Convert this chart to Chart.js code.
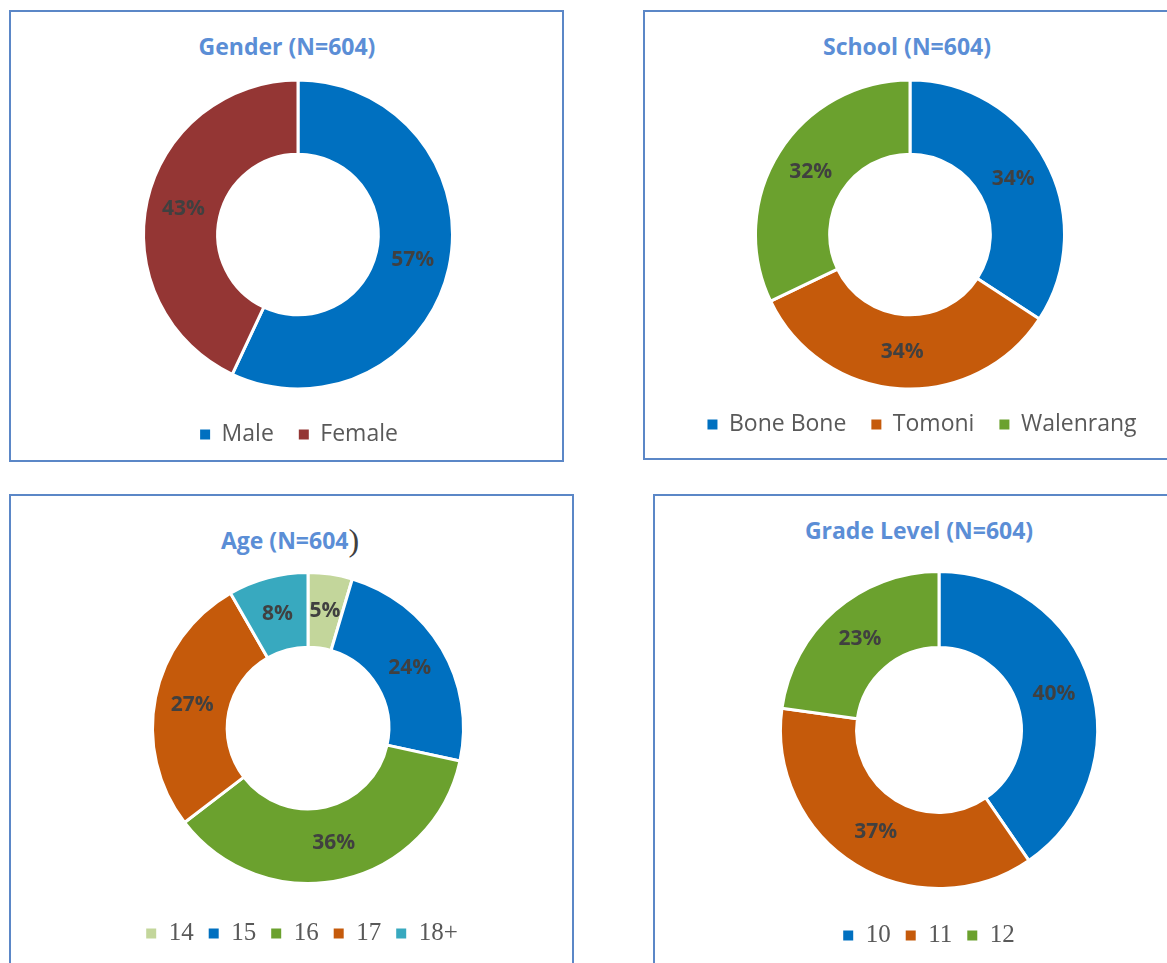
<!DOCTYPE html>
<html><head><meta charset="utf-8">
<script src="https://cdn.jsdelivr.net/npm/chart.js@4.4.1/dist/chart.umd.min.js"></script>
<style>
body{margin:0;width:1167px;height:963px;background:#fff;position:relative;overflow:hidden;font-family:'Open Sans',sans-serif}
.box{position:absolute;border:2px solid #5B87C7;box-sizing:border-box}
.title{position:absolute;font-weight:bold;font-size:23px;color:#5B8ED6;text-align:center;line-height:30px;white-space:nowrap}
.cv{position:absolute}
</style></head><body>
<div class="box" style="left:9px;top:10px;width:555px;height:452px"></div>
<div class="box" style="left:643px;top:10px;width:600px;height:450px"></div>
<div class="box" style="left:9px;top:494px;width:565px;height:520px"></div>
<div class="box" style="left:653px;top:494px;width:600px;height:520px"></div>

<div class="title" style="left:137px;width:300px;top:31px">Gender (N=604)</div>
<div class="title" style="left:757px;width:300px;top:31px">School (N=604)</div>
<div class="title" style="left:140px;width:300px;top:525px">Age (N=604<span style="color:#404040;font-weight:normal;font-family:'Liberation Serif',serif;font-size:32px;vertical-align:-2px">)</span></div>
<div class="title" style="left:769px;width:300px;top:515px">Grade Level (N=604)</div>

<div class="cv" style="left:38px;top:71px;width:520px;height:385px"><canvas id="c1"></canvas></div>
<div class="cv" style="left:660px;top:81px;width:500px;height:365px"><canvas id="c2"></canvas></div>
<div class="cv" style="left:58px;top:550px;width:500px;height:406px"><canvas id="c3"></canvas></div>
<div class="cv" style="left:719px;top:552px;width:440px;height:406px"><canvas id="c4"></canvas></div>

<script>
// ---- data ----
const genderLabels = ['Male', 'Female'];
const genderValues = [57, 43];
const genderColors = ['#0070C0', '#943634'];

const schoolLabels = ['Bone Bone', 'Tomoni', 'Walenrang'];
const schoolValues = [34.2, 33.7, 32.1];
const schoolColors = ['#0070C0', '#C55A0B', '#6BA12E'];

const ageLabels = ['14', '15', '16', '17', '18+'];
const ageValues = [4.6, 23.8, 36.2, 27.1, 8.3];
const ageColors = ['#C3D69B', '#0070C0', '#6BA12E', '#C55A0B', '#38A9BF'];

const gradeLabels = ['10', '11', '12'];
const gradeValues = [40.4, 36.8, 22.8];
const gradeColors = ['#0070C0', '#C55A0B', '#6BA12E'];

const pctLabels = {
  id: 'pctLabels',
  afterDatasetsDraw(chart) {
    const ctx = chart.ctx;
    const ds = chart.data.datasets[0];
    const total = ds.data.reduce((a, b) => a + b, 0);
    const meta = chart.getDatasetMeta(0);
    ctx.save();
    ctx.font = "bold 21px 'Open Sans'";
    ctx.fillStyle = '#404040';
    ctx.textAlign = 'center';
    ctx.textBaseline = 'middle';
    meta.data.forEach((arc, i) => {
      const p = arc.getCenterPoint();
      ctx.fillText(Math.round(ds.data[i] / total * 100) + '%', p.x, p.y);
    });
    ctx.restore();
  }
};

function makeDonut(id, labels, values, colors, radius, legendFont, pad, shift) {
  new Chart(document.getElementById(id), {
    type: 'doughnut',
    data: { labels: labels, datasets: [{ data: values, backgroundColor: colors, borderColor: '#ffffff', borderWidth: 3, radius: radius, cutout: '52%' }] },
    options: {
      responsive: true, maintainAspectRatio: false, animation: false,
      layout: { padding: 0 },
      plugins: {
        tooltip: { enabled: false },
        legend: {
          position: 'bottom',
          labels: {
            boxWidth: 10, boxHeight: 10, padding: pad, color: '#595959', font: legendFont,
            generateLabels(chart) {
              return Chart.overrides.doughnut.plugins.legend.labels.generateLabels(chart)
                .map(l => Object.assign(l, { lineWidth: 0, strokeStyle: 'rgba(0,0,0,0)' }));
            }
          }
        }
      }
    },
    plugins: [pctLabels, {
      id: 'legendShift',
      afterLayout(chart) { chart.legend.left += shift; chart.legend.right += shift; }
    }]
  });
}

makeDonut('c1', genderLabels, genderValues, genderColors, 154.5, { family: "'Open Sans'", size: 23 }, 25, 1);
makeDonut('c2', schoolLabels, schoolValues, schoolColors, 154.5, { family: "'Open Sans'", size: 23 }, 25, 12);
makeDonut('c3', ageLabels, ageValues, ageColors, 155.5, { family: "'Liberation Serif'", size: 25 }, 15, -6);
makeDonut('c4', gradeLabels, gradeValues, gradeColors, 158.5, { family: "'Liberation Serif'", size: 25 }, 15, -10);
</script>
</body></html>
